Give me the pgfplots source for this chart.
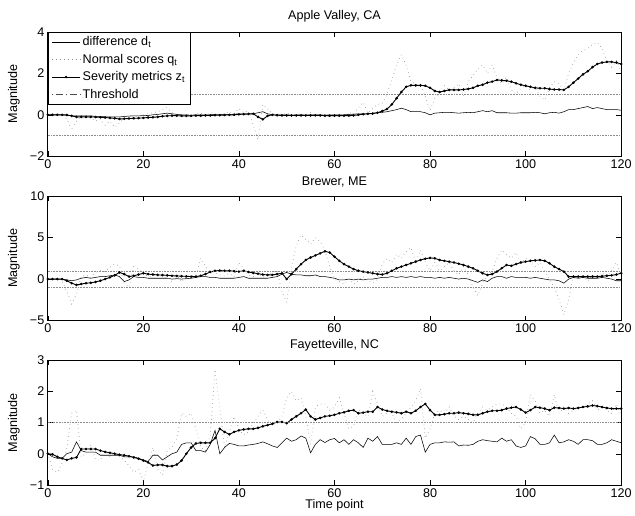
\documentclass[border=0pt]{standalone}
\usepackage{fontspec}
\setmainfont{Liberation Sans}
\usepackage{pgfplots}
\usepackage{pgfplotstable}
\pgfplotsset{compat=1.18}

% t  d (difference)  q (normal scores)  z (severity)
\pgfplotstableread{
t d q z
0 0 0 0
1 0 0.05 0
2 0 0 0
3 0 0.02 0
4 -0.02 -0.2 -0.01
5 -0.05 -0.75 -0.05
6 -0.05 -0.3 -0.1
7 -0.05 -0.05 -0.1
8 -0.05 -0.1 -0.1
9 -0.05 -0.15 -0.1
10 -0.08 -0.3 -0.11
11 -0.08 -0.2 -0.12
12 -0.1 -0.5 -0.13
13 -0.1 -0.3 -0.15
14 -0.1 -0.6 -0.17
15 -0.1 -0.4 -0.2
16 -0.08 -0.15 -0.19
17 -0.06 -0.1 -0.18
18 -0.05 -0.1 -0.17
19 -0.05 -0.05 -0.16
20 -0.04 0 -0.15
21 -0.03 0.05 -0.13
22 0 0.1 -0.12
23 0.02 0.15 -0.1
24 0.05 0.25 -0.07
25 0.08 0.35 -0.05
26 0.05 0.1 -0.04
27 0.02 -0.05 -0.04
28 0 -0.1 -0.05
29 0 0 -0.05
30 -0.02 -0.05 -0.05
31 0 0.05 -0.04
32 0 0.1 -0.04
33 0 -0.05 -0.03
34 0 0.1 -0.03
35 0.02 0.05 -0.02
36 0.02 0 -0.02
37 0 0.05 -0.01
38 0.02 0.15 0
39 0.03 0.05 0
40 0.05 0.3 0.02
41 0.05 0.1 0.03
42 0.05 0.2 0.04
43 0.05 -0.5 0.05
44 0.1 -1.2 -0.1
45 0.15 0.5 -0.22
46 0.05 0.3 -0.05
47 0 0.05 0
48 0 0.05 -0.02
49 0 -0.05 -0.03
50 0 0.1 -0.03
51 -0.02 0 -0.03
52 0 -0.05 -0.03
53 0 0.05 -0.03
54 -0.02 0 -0.03
55 0 0.1 -0.03
56 0 -0.05 -0.03
57 0 0.05 -0.03
58 -0.02 0 -0.04
59 0 -0.1 -0.04
60 0 0 -0.04
61 0 0.05 -0.04
62 0 -0.05 -0.04
63 0.02 0.1 -0.04
64 0.03 0.05 -0.03
65 0.05 0.35 0
66 0.05 0.6 0.03
67 0.05 0.1 0.05
68 0.08 0.3 0.06
69 0.1 0.5 0.1
70 0.12 0.55 0.18
71 0.15 1.0 0.28
72 0.2 1.7 0.5
73 0.25 2.4 0.8
74 0.32 2.9 1.1
75 0.25 2.4 1.35
76 0.15 1.6 1.42
77 0.15 1.5 1.42
78 0.15 1.4 1.42
79 0.1 0.9 1.4
80 0 0.2 1.3
81 0.08 0.8 1.15
82 0.1 1.1 1.1
83 0.12 1.4 1.15
84 0.12 1.2 1.2
85 0.1 1.3 1.2
86 0.08 1.5 1.2
87 0.1 0.9 1.22
88 0.12 1.6 1.25
89 0.1 1.9 1.3
90 0.15 2.2 1.4
91 0.2 2.4 1.45
92 0.15 2.0 1.55
93 0.2 2.4 1.6
94 0.1 1.8 1.68
95 0.1 1.5 1.66
96 0.1 1.8 1.64
97 0.08 1.2 1.6
98 0.08 1.0 1.52
99 0.1 1.3 1.45
100 0.1 1.4 1.4
101 0.1 1.2 1.35
102 0.12 1.3 1.3
103 0.1 0.9 1.28
104 0.05 0.7 1.28
105 0.1 1.3 1.24
106 0.12 1.6 1.22
107 0.08 1.5 1.22
108 0.15 1.2 1.2
109 0.25 2.0 1.35
110 0.25 2.5 1.55
111 0.3 2.9 1.75
112 0.35 3.1 1.95
113 0.4 3.2 2.1
114 0.3 3.4 2.3
115 0.35 3.5 2.45
116 0.3 3.2 2.52
117 0.25 2.6 2.55
118 0.25 2.3 2.55
119 0.25 2.6 2.52
120 0.22 2.1 2.45
}\apple

\pgfplotstableread{
t d q z
0 0 0 0
1 0 0 0
2 0 0.1 0
3 0 -0.3 0
4 -0.1 -1.5 -0.2
5 -0.2 -3.0 -0.5
6 -0.1 -1.8 -0.7
7 0.1 0.3 -0.6
8 0.2 0.5 -0.5
9 0.1 0.2 -0.45
10 0.2 0.8 -0.35
11 0.3 1.0 -0.2
12 0.3 0.9 0
13 0.4 1.4 0.2
14 0.5 1.8 0.45
15 0.3 1.6 0.8
16 -0.3 -0.5 0.6
17 -0.1 -1.0 0.3
18 0.3 1.5 0.4
19 0.2 1.2 0.55
20 0.2 0.6 0.7
21 0.1 0.3 0.6
22 0.1 0.4 0.55
23 0.1 0.6 0.5
24 0.1 0.3 0.48
25 0.1 0.2 0.45
26 0 -0.3 0.4
27 0.05 0.5 0.38
28 0 -0.4 0.35
29 0.05 0.3 0.33
30 0.1 0.4 0.3
31 0.2 0.5 0.3
32 0.3 2.5 0.4
33 0.3 1.5 0.6
34 0.2 0.9 0.85
35 0.2 0.8 1.0
36 0.1 0.5 1.02
37 0.1 0.4 1.0
38 0.1 0.7 1.0
39 0.1 0.3 0.95
40 0.2 2.0 0.9
41 0.3 1.2 1.0
42 0.1 0.5 0.85
43 0.1 0.3 0.75
44 0.1 0.6 0.65
45 0.1 0.2 0.55
46 0.1 0.5 0.5
47 0.2 0.8 0.5
48 0.3 1.0 0.6
49 0.6 -1.5 0.7
50 0.8 -2.8 0
51 0.6 1.5 0.6
52 0.5 4.0 1.2
53 0.5 5.3 1.8
54 0.4 4.8 2.3
55 0.4 4.2 2.6
56 0.5 5.0 2.85
57 0.3 4.5 3.1
58 0.3 3.5 3.35
59 0.2 1.5 3.2
60 0.1 0 2.7
61 -0.1 -0.3 2.2
62 -0.1 -0.6 1.8
63 0 0 1.5
64 -0.1 -0.6 1.2
65 0 -0.2 1.0
66 -0.1 0.3 0.9
67 0 -0.2 0.8
68 0 -0.5 0.7
69 0.1 0 0.6
70 0.2 1.8 0.55
71 0.2 2.5 0.7
72 0.3 2.0 1.0
73 0.2 3.0 1.3
74 0.3 2.5 1.5
75 0.2 3.3 1.7
76 0.3 3.8 1.9
77 0.2 2.0 2.1
78 0.3 3.5 2.3
79 0.2 2.0 2.45
80 0.2 1.0 2.55
81 0.1 2.0 2.5
82 0.2 1.0 2.3
83 0.1 1.5 2.2
84 0.2 2.0 2.1
85 0.1 1.0 2.0
86 0 0.5 1.85
87 0.1 1.5 1.7
88 0 0.5 1.5
89 -0.2 -1.0 1.3
90 -0.4 -2.0 1.0
91 -0.1 -0.5 0.7
92 -0.3 0.5 0.5
93 0.1 1.0 0.6
94 0.3 2.5 0.9
95 0.3 3.5 1.3
96 0.1 3.0 1.7
97 0.3 2.5 1.6
98 0.2 3.2 1.8
99 0.2 2.0 2.0
100 0.2 2.5 2.1
101 0.1 2.0 2.2
102 0.2 1.5 2.25
103 0.1 2.0 2.3
104 0 1.0 2.2
105 -0.1 0 1.9
106 -0.1 -1.0 1.5
107 -0.2 -2.5 1.2
108 -0.5 -4.3 0.9
109 0 -2.5 0.3
110 0.2 0.5 0.3
111 0.1 0 0.3
112 0.2 0.5 0.3
113 0.1 -0.3 0.3
114 0.1 0.5 0.3
115 0.1 0 0.3
116 0.2 0.8 0.35
117 0.1 0.3 0.4
118 0 1.0 0.45
119 -0.2 2.0 0.55
120 -0.2 0.5 0.7
}\brewer

\pgfplotstableread{
t d q z
0 0 0 0
1 -0.1 -0.5 -0.02
2 -0.15 -0.6 -0.1
3 -0.15 -0.3 -0.15
4 0 0.2 -0.2
5 0.05 1.3 -0.15
6 0.38 1.4 -0.12
7 0.1 -0.1 0.15
8 0.05 0 0.15
9 0.05 0.3 0.15
10 0.05 -0.2 0.15
11 -0.05 -0.2 0.1
12 -0.05 0.1 0.06
13 -0.05 -0.1 0.03
14 -0.05 0 0
15 -0.05 -0.1 -0.03
16 -0.1 -0.2 -0.05
17 -0.1 -0.4 -0.08
18 -0.1 -0.6 -0.12
19 -0.15 -0.5 -0.16
20 -0.2 -0.9 -0.22
21 -0.25 -0.3 -0.28
22 -0.05 0.2 -0.38
23 -0.05 -0.5 -0.36
24 -0.2 -0.7 -0.36
25 -0.1 0.1 -0.4
26 0 0.2 -0.4
27 0.05 0.5 -0.35
28 0.3 1.3 -0.22
29 0.35 1.2 0
30 0.35 1.3 0.2
31 0.1 0.8 0.33
32 0.1 0.2 0.35
33 0.05 0.1 0.35
34 0.3 0.6 0.35
35 0.75 2.7 0.5
36 0 1.5 0.8
37 0.2 0.2 0.7
38 0.33 0.7 0.62
39 0.3 1.2 0.7
40 0.25 0.8 0.75
41 0.25 0.6 0.78
42 0.28 0.7 0.8
43 0.3 1.0 0.8
44 0.33 1.2 0.83
45 0.38 1.4 0.88
46 0.32 1.1 0.92
47 0.25 0.9 0.96
48 0.2 1.0 1.02
49 0.35 1.2 1.02
50 0.5 1.8 0.98
51 0.4 2.0 1.1
52 0.45 1.7 1.2
53 0.57 1.8 1.3
54 0.5 1.2 1.42
55 0.03 0.3 1.2
56 0.3 1.5 1.1
57 0.45 1.6 1.15
58 0.36 1.6 1.2
59 0.45 1.4 1.22
60 0.49 1.5 1.25
61 0.35 1.8 1.3
62 0.45 1.3 1.33
63 0.3 0.8 1.38
64 0.45 0.9 1.4
65 0.35 1.4 1.3
66 0.2 1.3 1.32
67 0.5 1.2 1.35
68 0.4 2.0 1.35
69 0.55 1.6 1.5
70 0.3 1.2 1.42
71 0.3 1.3 1.38
72 0.3 1.3 1.35
73 0.35 1.0 1.33
74 0.3 1.1 1.3
75 0.5 1.3 1.35
76 0.3 1.5 1.3
77 0.55 1.7 1.38
78 0.6 2.1 1.5
79 0.05 0.5 1.6
80 0.3 0.8 1.4
81 0.35 1.3 1.25
82 0.35 1.4 1.25
83 0.38 1.3 1.27
84 0.37 1.5 1.3
85 0.38 1.2 1.3
86 0.25 1.1 1.32
87 0.28 1.2 1.3
88 0.27 1.1 1.28
89 0.3 1.0 1.25
90 0.4 1.3 1.25
91 0.45 1.5 1.3
92 0.42 1.4 1.35
93 0.4 1.5 1.38
94 0.38 1.6 1.38
95 0.5 1.6 1.4
96 0.4 1.5 1.45
97 0.45 1.3 1.48
98 0.25 1.2 1.5
99 0.2 0.8 1.42
100 0.25 1.0 1.32
101 0.55 1.9 1.4
102 0.48 1.7 1.5
103 0.3 1.3 1.48
104 0.3 1.4 1.45
105 0.35 1.2 1.4
106 0.6 1.9 1.48
107 0.35 1.3 1.47
108 0.38 1.5 1.45
109 0.45 1.3 1.47
110 0.4 1.4 1.45
111 0.3 1.5 1.47
112 0.45 1.5 1.5
113 0.45 1.6 1.52
114 0.42 1.7 1.55
115 0.3 1.4 1.53
116 0.3 1.5 1.5
117 0.35 1.4 1.47
118 0.45 1.3 1.45
119 0.4 1.6 1.45
120 0.35 1.2 1.45
}\fayette

\newcommand{\fs}{\fontsize{12.7}{15}\selectfont}

\pgfplotsset{
  panel/.style={
    width=576bp, height=125bp, scale only axis,
    xmin=0, xmax=120, xtick={0,20,...,120},
    tick align=inside, major tick length=5bp,
    tick style={black, line width=0.4pt},
    axis line style={black, line width=0.6pt},
    every tick label/.append style={font=\fs},
    /pgf/number format/assume math mode=true,
    title style={font=\fs},
    label style={font=\fs},
    ylabel=Magnitude,
    ylabel style={at={(axis description cs:-0.043,0.5)}, anchor=south},
  },
  dline/.style={black, line width=0.55pt, no markers},
  qline/.style={black!45, dash pattern=on 0.5pt off 3.5pt, line width=0.8pt, no markers},
  zline/.style={black, line width=0.9pt, mark=*, mark size=0.8pt},
  thr/.style={black!45, dash pattern=on 0.4pt off 1.2pt, line width=0.4pt, no markers},
  longleg/.style={legend image code/.code={%
    \draw[mark repeat=2, mark phase=2, ##1] plot coordinates {(0cm,0cm) (0.5cm,0cm) (1cm,0cm)};}},
}

\begin{document}
\begin{tikzpicture}

\begin{axis}[panel, name=a1,
  title={Apple Valley, CA},
  ymin=-2, ymax=4, ytick={-2,0,2,4}, yticklabels={−2,0,2,4},
  legend style={at={(0,1)}, anchor=north west, draw=black, line width=0.6pt,
    fill=white, font=\fs, inner xsep=3.5bp, inner ysep=2.5bp, row sep=3bp},
  legend cell align=left,
]
\addplot[dline, longleg] table[x=t, y=d] {\apple};
\addlegendentry{difference d\textsubscript{t}}
\addplot[qline, longleg] table[x=t, y=q] {\apple};
\addlegendentry{Normal scores q\textsubscript{t}}
\addplot[zline, longleg] table[x=t, y=z] {\apple};
\addlegendentry{Severity metrics z\textsubscript{t}}
\addplot[thr, legend image code/.code={\draw[black!70, dash pattern=on 1pt off 3pt on 7pt off 3pt, line width=0.5pt] (0cm,0cm) -- (1cm,0cm);}] coordinates {(0,1) (120,1)};
\addlegendentry{Threshold}
\addplot[thr, forget plot] coordinates {(0,-1) (120,-1)};
\end{axis}

\begin{axis}[panel, at={(0,-165bp)},
  title={Brewer, ME},
  ymin=-5, ymax=10, ytick={-5,0,5,10}, yticklabels={−5,0,5,10},
]
\addplot[dline] table[x=t, y=d] {\brewer};
\addplot[qline] table[x=t, y=q] {\brewer};
\addplot[zline] table[x=t, y=z] {\brewer};
\addplot[thr] coordinates {(0,1) (120,1)};
\addplot[thr] coordinates {(0,-1) (120,-1)};
\end{axis}

\begin{axis}[panel, at={(0,-330bp)}, name=a3,
  title={Fayetteville, NC},
  ymin=-1, ymax=3, ytick={-1,0,1,2,3}, yticklabels={−1,0,1,2,3},
  xlabel={Time point}, xlabel style={yshift=5bp},
]
\addplot[dline] table[x=t, y=d] {\fayette};
\addplot[qline] table[x=t, y=q] {\fayette};
\addplot[zline] table[x=t, y=z] {\fayette};
\addplot[thr] coordinates {(0,1) (120,1)};
\end{axis}

% page margins as in the original figure
\path ([shift={(-48bp,32bp)}]a1.north west) -- ([shift={(11bp,-31bp)}]a3.south east);

\end{tikzpicture}
\end{document}
